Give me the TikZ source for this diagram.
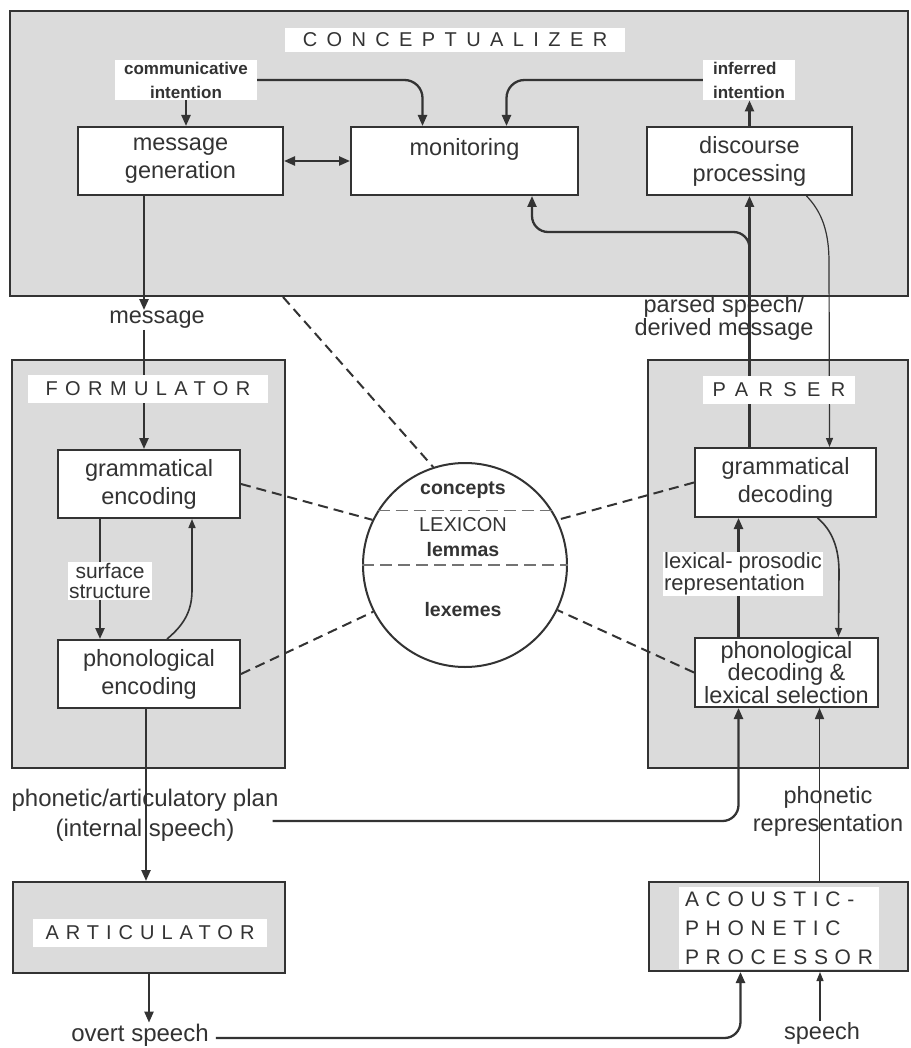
\documentclass[tikz,border=0pt]{standalone}
\usepackage{fontspec}
\setmainfont{Liberation Sans}
\usetikzlibrary{arrows.meta,calc}
\definecolor{ink}{gray}{0.2}
\definecolor{panel}{gray}{0.86}
\begin{document}
\begin{tikzpicture}[x=1pt,y=-1pt,
  every node/.style={text=ink, font=\fontsize{23.5}{28}\selectfont},
  module/.style={draw=ink, line width=2pt, fill=panel, rectangle, inner sep=0},
  proc/.style={draw=ink, line width=2pt, fill=white, rectangle, inner sep=0, align=center},
  title/.style={fill=white, inner sep=0},
  lbl/.style={inner sep=1pt, align=center},
  wl/.style={fill=white, inner sep=2pt, align=center},
  small/.style={font=\fontsize{17}{24}\selectfont\bfseries},
  thk/.style={draw=ink, line width=2.3pt},
  med/.style={draw=ink, line width=1.6pt},
  thn/.style={draw=ink, line width=1.2pt},
  tip/.style={-{Triangle[length=11pt,width=9pt]}},
  stip/.style={-{Triangle[length=9pt,width=7pt]}},
  lexdash/.style={draw=ink, line width=2pt, dash pattern=on 10pt off 6pt},
  chord/.style={draw=black!55, line width=1.8pt, dash pattern=on 12pt off 6pt},
]
\useasboundingbox (0,0) rectangle (910,1048);
\fill[white] (0,0) rectangle (910,1048);

% modules
\node[module, minimum width=898pt, minimum height=285pt] (conc) at (459,153.5) {};
\node[module, minimum width=273pt, minimum height=408pt] (form) at (148.5,564) {};
\node[module, minimum width=260pt, minimum height=408pt] (pars) at (778,564) {};
\node[module, minimum width=272pt, minimum height=91pt] (ar) at (149,927.5) {};
\node[module, minimum width=259pt, minimum height=89pt] (ap) at (778.5,926.5) {};

% processes
\node[proc, minimum width=205pt, minimum height=68pt] (mg) at (180.5,161) {message\\generation};
\node[proc, minimum width=227pt, minimum height=68pt] (mon) at (464.5,161) {monitoring\\~};
\node[proc, minimum width=205pt, minimum height=68pt] (dp) at (749.5,161) {discourse\\processing};
\node[proc, minimum width=182pt, minimum height=68pt] (ge) at (149,484) {grammatical\\encoding};
\node[proc, minimum width=182pt, minimum height=68pt] (pe) at (149,674) {phonological\\encoding};
\node[proc, minimum width=181pt, minimum height=69pt] (gd) at (785.5,482.5) {grammatical\\decoding};
\node[proc, minimum width=183pt, minimum height=69pt, font=\fontsize{23.5}{19.5}\selectfont] (pd) at (786.5,672.5) {phonological\\decoding \&\\lexical selection};

% lexicon
\node[circle, draw=ink, line width=2pt, fill=white, minimum size=204pt, inner sep=0] (lex) at (465,565) {};
\draw[chord] (lex.148) -- (lex.32);
\draw[chord] (lex.180) -- (lex.0);
\node[font=\fontsize{19.5}{24}\selectfont\bfseries] (lc) at (463,490) {concepts};
\node[font=\fontsize{20}{24}\selectfont] (ll) at (463,525) {LEXICON};
\node[font=\fontsize{19.5}{24}\selectfont\bfseries] (lm) at (463,550) {lemmas};
\node[font=\fontsize{19.5}{24}\selectfont\bfseries] (lx) at (463,610) {lexemes};

% labels
\node[wl, small, minimum width=142pt, minimum height=40pt] (ci) at (186,80) {communicative\\intention};
\node[wl, small, align=left, minimum width=92pt, minimum height=40pt] (ii) at (749,80) {inferred\\intention};
\node[lbl] (msg) at (157,320) {message};
\node[lbl, font=\fontsize{23.5}{20}\selectfont] (psd) at (724,318) {parsed speech/\\derived message};
\node[lbl, font=\fontsize{24}{30}\selectfont] (ppl) at (145,815) {phonetic/articulatory plan\\(internal speech)};
\node[lbl] (pr) at (828,811) {phonetic\\representation};
\node[lbl, font=\fontsize{24}{28}\selectfont] (ov) at (140,1035) {overt speech};
\node[lbl] (sp) at (822,1033) {speech};
\coordinate (mx) at (144,0);

% connectors in conceptualizer
\draw[thk,tip] (ci.south) -- (ci.south |- mg.north);
\draw[thk,tip,rounded corners=18pt] (ci.east) -| ([xshift=-42pt]mon.north);
\draw[thk,{Triangle[length=11pt,width=9pt]}-{Triangle[length=11pt,width=9pt]}] (mg.east) -- (mon.west);
\draw[thk,tip] (dp.north) -- (dp.north |- ii.south);
\draw[thk,tip,rounded corners=18pt] (ii.west) -| ([xshift=42pt]mon.north);

% formulator path
\draw[thk,tip] (mg.south -| mx) -- (msg.north -| mx);
\draw[thk,tip] (msg.south -| mx) -- (ge.north -| mx);
\draw[thk,tip] ([xshift=-49pt]ge.south) -- ([xshift=-49pt]pe.north);
\node[wl, inner sep=1pt, font=\fontsize{21}{20}\selectfont] (ss) at (110,581) {surface\\structure};
\draw[med,stip] ([xshift=18pt]pe.north) .. controls (185,624) and (192,610) .. (192,590) -- ([xshift=43pt]ge.south);
\draw[thk,tip] ([xshift=-3pt]pe.south) -- ([xshift=-3pt]pe.south |- ar.north);
\draw[thk,tip] (ar.south) -- (ar.south |- ov.north);
\draw[thk,tip,rounded corners=16pt] ([xshift=6pt,yshift=-3pt]ov.east) -| ([xshift=-38pt]ap.south);
\draw[thk,tip,rounded corners=16pt] ([xshift=-7pt,yshift=-6pt]ppl.east) -| ([xshift=-48pt]pd.south);

% parser path
\draw[thk,tip] ([xshift=-48pt]pd.north) -- ([xshift=-48pt]pd.north |- gd.south);
\node[wl, inner sep=1pt, align=left, font=\fontsize{22}{19}\selectfont] (lp) at (743,574) {lexical- prosodic\\representation};
\draw[med,stip] ([xshift=32pt]gd.south) .. controls (832,530) and (839,548) .. (839,572) -- ([xshift=52pt]pd.north);
\draw[med,tip] ([xshift=41pt]ap.north) -- ([xshift=41pt]ap.north |- pd.south);
\draw[thn,stip] ([xshift=-2pt]sp.north) -- ([xshift=-2pt]sp.north |- ap.south);
\draw[thk,tip] (gd.north -| dp.south) -- (dp.south);
\coordinate (b1) at (749.5,262);
\coordinate (b2) at (532,232);
\draw[thk,tip,rounded corners=16pt] (b1) |- (b2) -- (b2 |- mon.south);
\draw[thn,stip] ([xshift=57pt]dp.south) .. controls (822,212) and (829,232) .. (829,262) -- ([xshift=44pt]gd.north);

% lexicon links
\draw[lexdash] ([xshift=-176pt]conc.south) -- (lex.108);
\draw[lexdash] (ge.east) -- (lex.154);
\draw[lexdash] (pe.east) -- (lex.207);
\draw[lexdash] (gd.west) -- (lex.26);
\draw[lexdash] (pd.west) -- (lex.-26);

% titles
\node[title, minimum width=340pt, minimum height=24pt, font=\fontsize{20}{24}\selectfont\addfontfeature{LetterSpace=47}] (ct) at (455,40) {CONCEPTUALIZER};
\node[title, minimum width=240pt, minimum height=28pt, font=\fontsize{20}{24}\selectfont\addfontfeature{LetterSpace=37}] (ft) at (148,388.5) {FORMULATOR};
\node[title, minimum width=152pt, minimum height=28pt, font=\fontsize{20}{24}\selectfont\addfontfeature{LetterSpace=52}] (pt) at (779,390) {PARSER};
\node[title, minimum width=234pt, minimum height=28pt, font=\fontsize{20}{24}\selectfont\addfontfeature{LetterSpace=35}] (at) at (150,933) {ARTICULATOR};
\node[title, align=left, minimum width=200pt, minimum height=82pt, font=\fontsize{21}{29}\selectfont\addfontfeature{LetterSpace=32}] (apt) at (779,928) {ACOUSTIC-\\PHONETIC\\PROCESSOR};
\end{tikzpicture}
\end{document}
